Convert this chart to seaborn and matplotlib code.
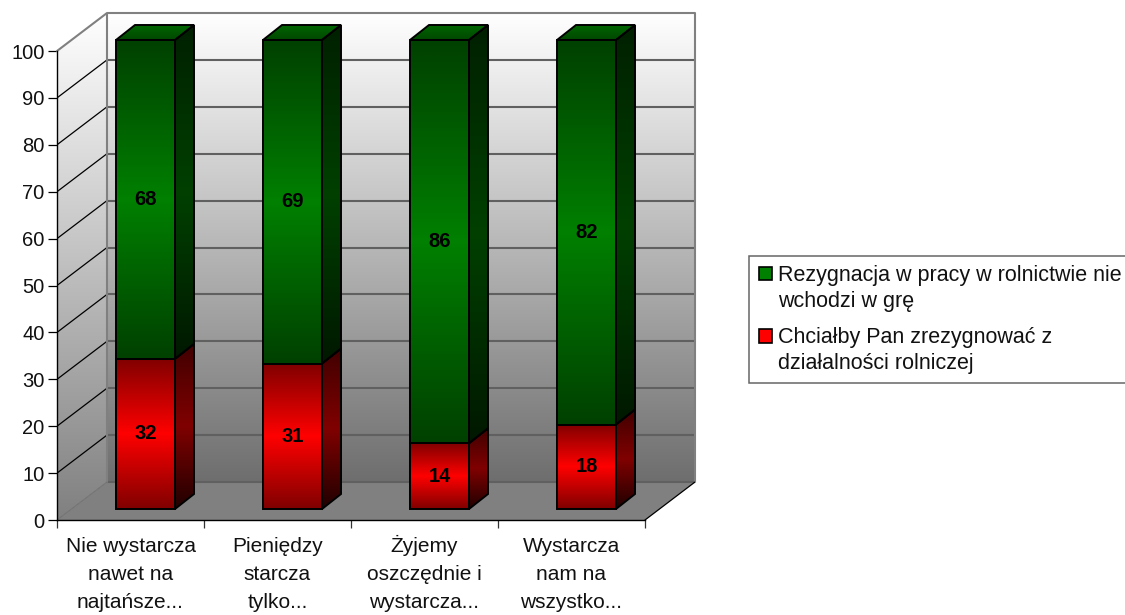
import numpy as np
import pandas as pd
import matplotlib
matplotlib.use('Agg')
import matplotlib.pyplot as plt
import seaborn as sns
from matplotlib.colors import LinearSegmentedColormap
from matplotlib.legend_handler import HandlerPatch
from matplotlib.patches import Patch, Polygon, Rectangle

categories = ['Nie wystarcza\nnawet na\nnajtańsze...', 'Pieniędzy\nstarcza\ntylko...',
              'Żyjemy\noszczędnie i\nwystarcza...', 'Wystarcza\nnam na\nwszystko...']
chce_zrezygnowac = [32, 31, 14, 18]
nie_wchodzi = [68, 69, 86, 82]
y_ticks = list(range(0, 101, 10))
legend_labels = ['Rezygnacja w pracy w rolnictwie nie\nwchodzi w grę',
                 'Chciałby Pan zrezygnować z\ndziałalności rolniczej']

# one data unit in pixels, used to express the fake 3D depth
PX_X = 147.0
PX_Y = 4.69
DEPTH_X = 50 / PX_X
DEPTH_Y = 38 / PX_Y
BAR_DX = 15 / PX_X
BAR_DY = 11 / PX_Y
SIDE_X = 19 / PX_X
SIDE_Y = 15 / PX_Y
BAR_WIDTH = 59 / PX_X

W, H = 1125, 615


def shade(ax, verts, stops, zorder):
    """Fill a polygon with a vertical gradient, stops listed from top to bottom."""
    xs = [v[0] for v in verts]
    ys = [v[1] for v in verts]
    cmap = LinearSegmentedColormap.from_list('g', stops)
    img = ax.imshow(np.linspace(0, 1, 256).reshape(-1, 1), cmap=cmap, aspect='auto',
                    extent=(min(xs), max(xs), min(ys), max(ys)), origin='upper',
                    interpolation='bilinear', zorder=zorder)
    clip = Polygon(verts, closed=True, transform=ax.transData)
    img.set_clip_path(clip)


def outline(ax, verts, zorder):
    ax.add_patch(Polygon(verts, closed=True, fill=False, edgecolor='black', linewidth=1.4,
                         zorder=zorder, joinstyle='miter'))


def first_line_square(legend, orig_handle, xdescent, ydescent, width, height, fontsize):
    # legend centres the handle on the two line label, the reference has it on line one
    return Rectangle((-xdescent + fontsize * 0.08, -ydescent + fontsize * 0.7), width, height)


sns.set_theme(style='white')
plt.rcParams['font.family'] = ['Liberation Sans', 'DejaVu Sans']

fig = plt.figure(figsize=(W / 100, H / 100), dpi=100)
ax = fig.add_axes([57 / W, 1 - 520 / H, (695 - 57) / W, (520 - 13) / H])
ax.patch.set_alpha(0)

df = pd.DataFrame({'kategoria': categories, 'nie': nie_wchodzi, 'tak': chce_zrezygnowac})
sns.barplot(data=df, x='kategoria', y='tak', color='#ff0000', width=BAR_WIDTH, ax=ax)
sns.barplot(data=df, x='kategoria', y='nie', color='#008000', width=BAR_WIDTH,
            bottom=df['tak'].to_numpy(), ax=ax)

x0, x1 = -0.5, 3.5
xmax = x1 + DEPTH_X
ymax = 100 + DEPTH_Y

# walls and floor
shade(ax, [(x0 + DEPTH_X, DEPTH_Y), (xmax, DEPTH_Y), (xmax, ymax), (x0 + DEPTH_X, ymax)],
      ['#ffffff', '#6e6e6e'], 1)
shade(ax, [(x0, 0), (x0 + DEPTH_X, DEPTH_Y), (x0 + DEPTH_X, ymax), (x0, 100)],
      ['#ffffff', '#808080'], 1)
ax.add_patch(Polygon([(x0, 0), (x1, 0), (xmax, DEPTH_Y), (x0 + DEPTH_X, DEPTH_Y)],
                     closed=True, facecolor='#808080', edgecolor='none', zorder=1))

for t in y_ticks[1:-1] + [0]:
    ax.plot([x0 + DEPTH_X, xmax], [t + DEPTH_Y] * 2, color='#606060', lw=1.5, zorder=2, solid_capstyle='butt')
for t in y_ticks[1:-1]:
    ax.plot([x0, x0 + DEPTH_X], [t, t + DEPTH_Y], color='black', lw=0.9, zorder=2)

# wall frame
ax.plot([x0, x0 + DEPTH_X, xmax, xmax], [100, ymax, ymax, DEPTH_Y], color='#808080', lw=1.5, zorder=2, clip_on=False)
ax.plot([x0 + DEPTH_X, x0 + DEPTH_X], [DEPTH_Y, ymax], color='#808080', lw=1.5, zorder=2)
ax.plot([x1, xmax], [0, DEPTH_Y], color='black', lw=0.9, zorder=2)
ax.plot([x0, x0 + DEPTH_X], [0, DEPTH_Y], color='#707070', lw=0.7, zorder=2)

# bars: move into the depth of the floor and paint the 3D faces
red_bars = ax.patches[:4]
green_bars = ax.patches[4:8]
front_red = ['#800000', '#ff0000', '#800000']
side_red = ['#400000', '#800000', '#200000']
front_green = ['#004000', '#008000', '#004000']
side_green = ['#002000', '#004000', '#001800']

for bars, front, side, vals in [(red_bars, front_red, side_red, chce_zrezygnowac),
                                (green_bars, front_green, side_green, nie_wchodzi)]:
    for bar, val in zip(bars, vals):
        bx = bar.get_x() + BAR_DX
        by = bar.get_y() + BAR_DY
        bw = bar.get_width()
        bh = bar.get_height()
        bar.set_x(bx)
        bar.set_y(by)
        bar.set_facecolor('none')
        bar.set_edgecolor('black')
        bar.set_linewidth(1.4)
        bar.set_zorder(5)
        shade(ax, [(bx, by), (bx + bw, by), (bx + bw, by + bh), (bx, by + bh)], front, 3)
        side_verts = [(bx + bw, by), (bx + bw + SIDE_X, by + SIDE_Y),
                      (bx + bw + SIDE_X, by + bh + SIDE_Y), (bx + bw, by + bh)]
        shade(ax, side_verts, side, 3)
        outline(ax, side_verts, 4)
        ax.text(bx + bw / 2, by + bh / 2, str(val), ha='center', va='center',
                fontsize=14.5, fontweight='bold', color='black', zorder=6)

for bar in green_bars:
    bx, bw = bar.get_x(), bar.get_width()
    top = bar.get_y() + bar.get_height()
    top_verts = [(bx, top), (bx + bw, top), (bx + bw + SIDE_X, top + SIDE_Y), (bx + SIDE_X, top + SIDE_Y)]
    shade(ax, top_verts, ['#006600', '#004800'], 3)
    outline(ax, top_verts, 4)

ax.set_xlim(x0, xmax)
ax.set_ylim(0, ymax)
ax.set_xlabel('')
ax.set_ylabel('')

for name in ['top', 'right']:
    ax.spines[name].set_visible(False)
ax.spines['left'].set_bounds(0, 100)
ax.spines['bottom'].set_bounds(x0, x1)
for name in ['left', 'bottom']:
    ax.spines[name].set_color('black')
    ax.spines[name].set_linewidth(1.0)
    ax.spines[name].set_zorder(7)

ax.set_yticks(y_ticks)
ax.set_yticklabels([str(t) for t in y_ticks], fontsize=14.5, color='#111111')
ax.tick_params(axis='y', left=True, length=6.5, width=0.9, pad=2.5, color='black')
ax.set_xticks(range(len(categories)))
ax.set_xticklabels(categories, fontsize=15, linespacing=1.62, color='#111111')
ax.set_xticks(np.arange(x0, x1 + 0.5), minor=True)
ax.tick_params(axis='x', which='major', length=0, pad=63.5)
ax.tick_params(axis='x', which='minor', bottom=True, length=6, width=0.9, color='#333333')
for label in ax.get_xticklabels():
    label.set_verticalalignment('baseline')

handles = [Patch(facecolor='#008000', edgecolor='black', linewidth=1.2),
           Patch(facecolor='#ff0000', edgecolor='black', linewidth=1.2)]
leg = fig.legend(handles, legend_labels, loc='upper left', bbox_to_anchor=(749 / W, 1 - 256 / H),
                 bbox_transform=fig.transFigure, fontsize=15.5, frameon=True, fancybox=False,
                 edgecolor='#666666', facecolor='white', framealpha=1, borderpad=0.4, borderaxespad=0,
                 handlelength=0.6, handleheight=0.6, handletextpad=0.34, labelspacing=0.7,
                 handler_map={Patch: HandlerPatch(patch_func=first_line_square)})
leg.get_frame().set_linewidth(1.1)
for txt in leg.get_texts():
    txt.set_linespacing(1.33)
    txt.set_color('#111111')

fig.savefig('out.png', dpi=100)
